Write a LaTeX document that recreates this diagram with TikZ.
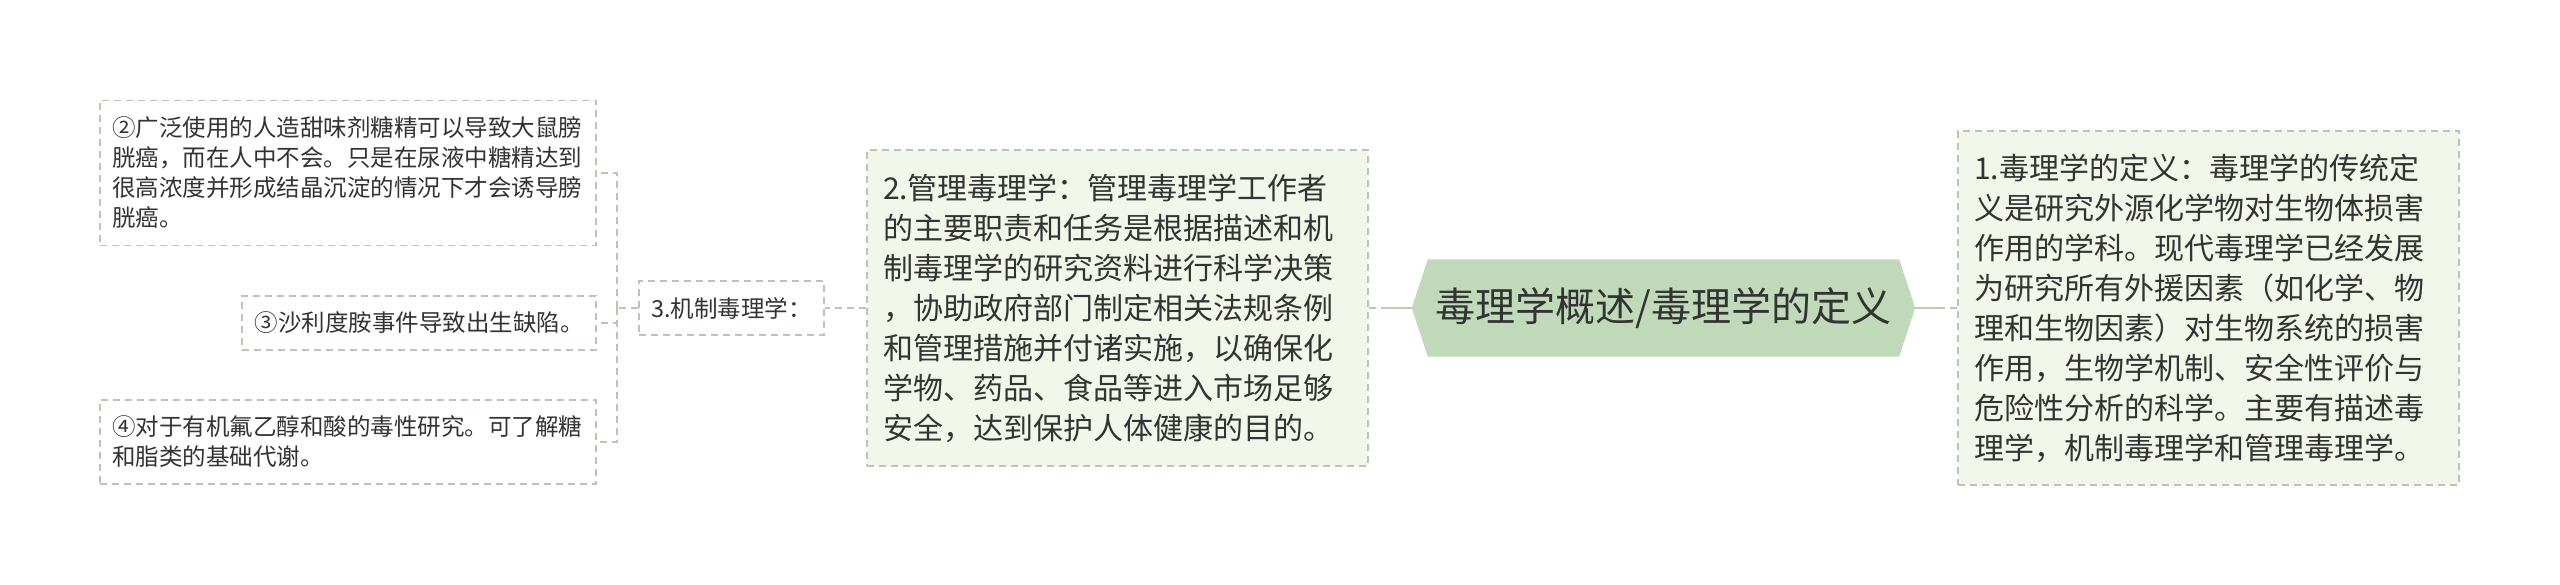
\documentclass[tikz,border=0pt]{standalone}
\usepackage{fontspec}
\setmainfont{Noto Sans CJK SC}
\usetikzlibrary{backgrounds}
\definecolor{leafgreen}{HTML}{F1F7EA}
\definecolor{rootgreen}{HTML}{C0DAB9}
\definecolor{linegreen}{HTML}{B7D1B0}
\definecolor{dashgray}{HTML}{B9C5B7}
\definecolor{inkgray}{HTML}{333333}
\tikzset{%
  rootbox/.style={inner sep=0,minimum width=503pt,minimum height=97pt,text=inkgray,font=\fontsize{40}{48}\selectfont},
  bigbox/.style={draw=dashgray,fill=leafgreen,line width=1.5pt,dash pattern=on 7pt off 5pt,inner xsep=16pt,inner ysep=0pt,text width=469pt,align=left,text=inkgray,font=\fontsize{30}{40}\selectfont},
  leafbox/.style={draw=dashgray,fill=white,line width=1.5pt,dash pattern=on 7pt off 5pt,inner xsep=12pt,inner ysep=0pt,align=left,text=inkgray,font=\fontsize{23.5}{30}\selectfont},
  sublink/.style={draw=dashgray,line width=1.5pt,dash pattern=on 7pt off 5pt},
  rootlink/.style={draw=linegreen,line width=2.5pt}
}

\begin{document}
\begin{tikzpicture}[x=1pt,y=-1pt]
    \useasboundingbox (0,0) rectangle (2560,585);
    \path
      (1663.5,308) node (root)[rootbox]{毒理学概述/毒理学的定义}
      (2208.5,308) node (def)[bigbox,minimum height=354pt]{1.毒理学的定义：毒理学的传统定\\义是研究外源化学物对生物体损害\\作用的学科。现代毒理学已经发展\\为研究所有外援因素（如化学、物\\理和生物因素）对生物系统的损害\\作用，生物学机制、安全性评价与\\危险性分析的科学。主要有描述毒\\理学，机制毒理学和管理毒理学。}
      (1117.5,308) node (mgmt)[bigbox,minimum height=316pt]{2.管理毒理学：管理毒理学工作者\\的主要职责和任务是根据描述和机\\制毒理学的研究资料进行科学决策\\，协助政府部门制定相关法规条例\\和管理措施并付诸实施，以确保化\\学物、药品、食品等进入市场足够\\安全，达到保护人体健康的目的。}
      (731.5,308) node (mech)[leafbox,minimum width=185pt,minimum height=54pt]{3.机制毒理学：}
      (348,173) node (s2)[leafbox,text width=472pt,minimum height=145pt]{②广泛使用的人造甜味剂糖精可以导致大鼠膀\\胱癌，而在人中不会。只是在尿液中糖精达到\\很高浓度并形成结晶沉淀的情况下才会诱导膀\\胱癌。}
      (419,323) node (s3)[leafbox,minimum width=354pt,minimum height=54pt]{③沙利度胺事件导致出生缺陷。}
      (348,442) node (s4)[leafbox,text width=472pt,minimum height=84pt]{④对于有机氟乙醇和酸的毒性研究。可了解糖\\和脂类的基础代谢。};
    \begin{scope}[on background layer]
      \fill[rootgreen] (root.west) -- ([xshift=16pt]root.north west) -- ([xshift=-16pt]root.north east)
        -- (root.east) -- ([xshift=-16pt]root.south east) -- ([xshift=16pt]root.south west) -- cycle;
    \end{scope}
    \coordinate (fork) at (617,308);
    \coordinate (defin) at ([xshift=-14pt]def.west);
    \coordinate (mgmtin) at ([xshift=14pt]mgmt.east);
    \draw[rootlink] (root.east) -- (defin);
    \draw[sublink] (def.west) -- (defin);
    \draw[rootlink] (root.west) -- (mgmtin);
    \draw[sublink] (mgmt.east) -- (mgmtin);
    \draw[sublink] (mgmt.west) -- (mech.east);
    \draw[sublink] (mech.west) -- (fork);
    \draw[sublink] (fork) |- (s2.east);
    \draw[sublink] (fork) |- (s3.east);
    \draw[sublink] (fork) |- (s4.east);
  \end{tikzpicture}
\end{document}
